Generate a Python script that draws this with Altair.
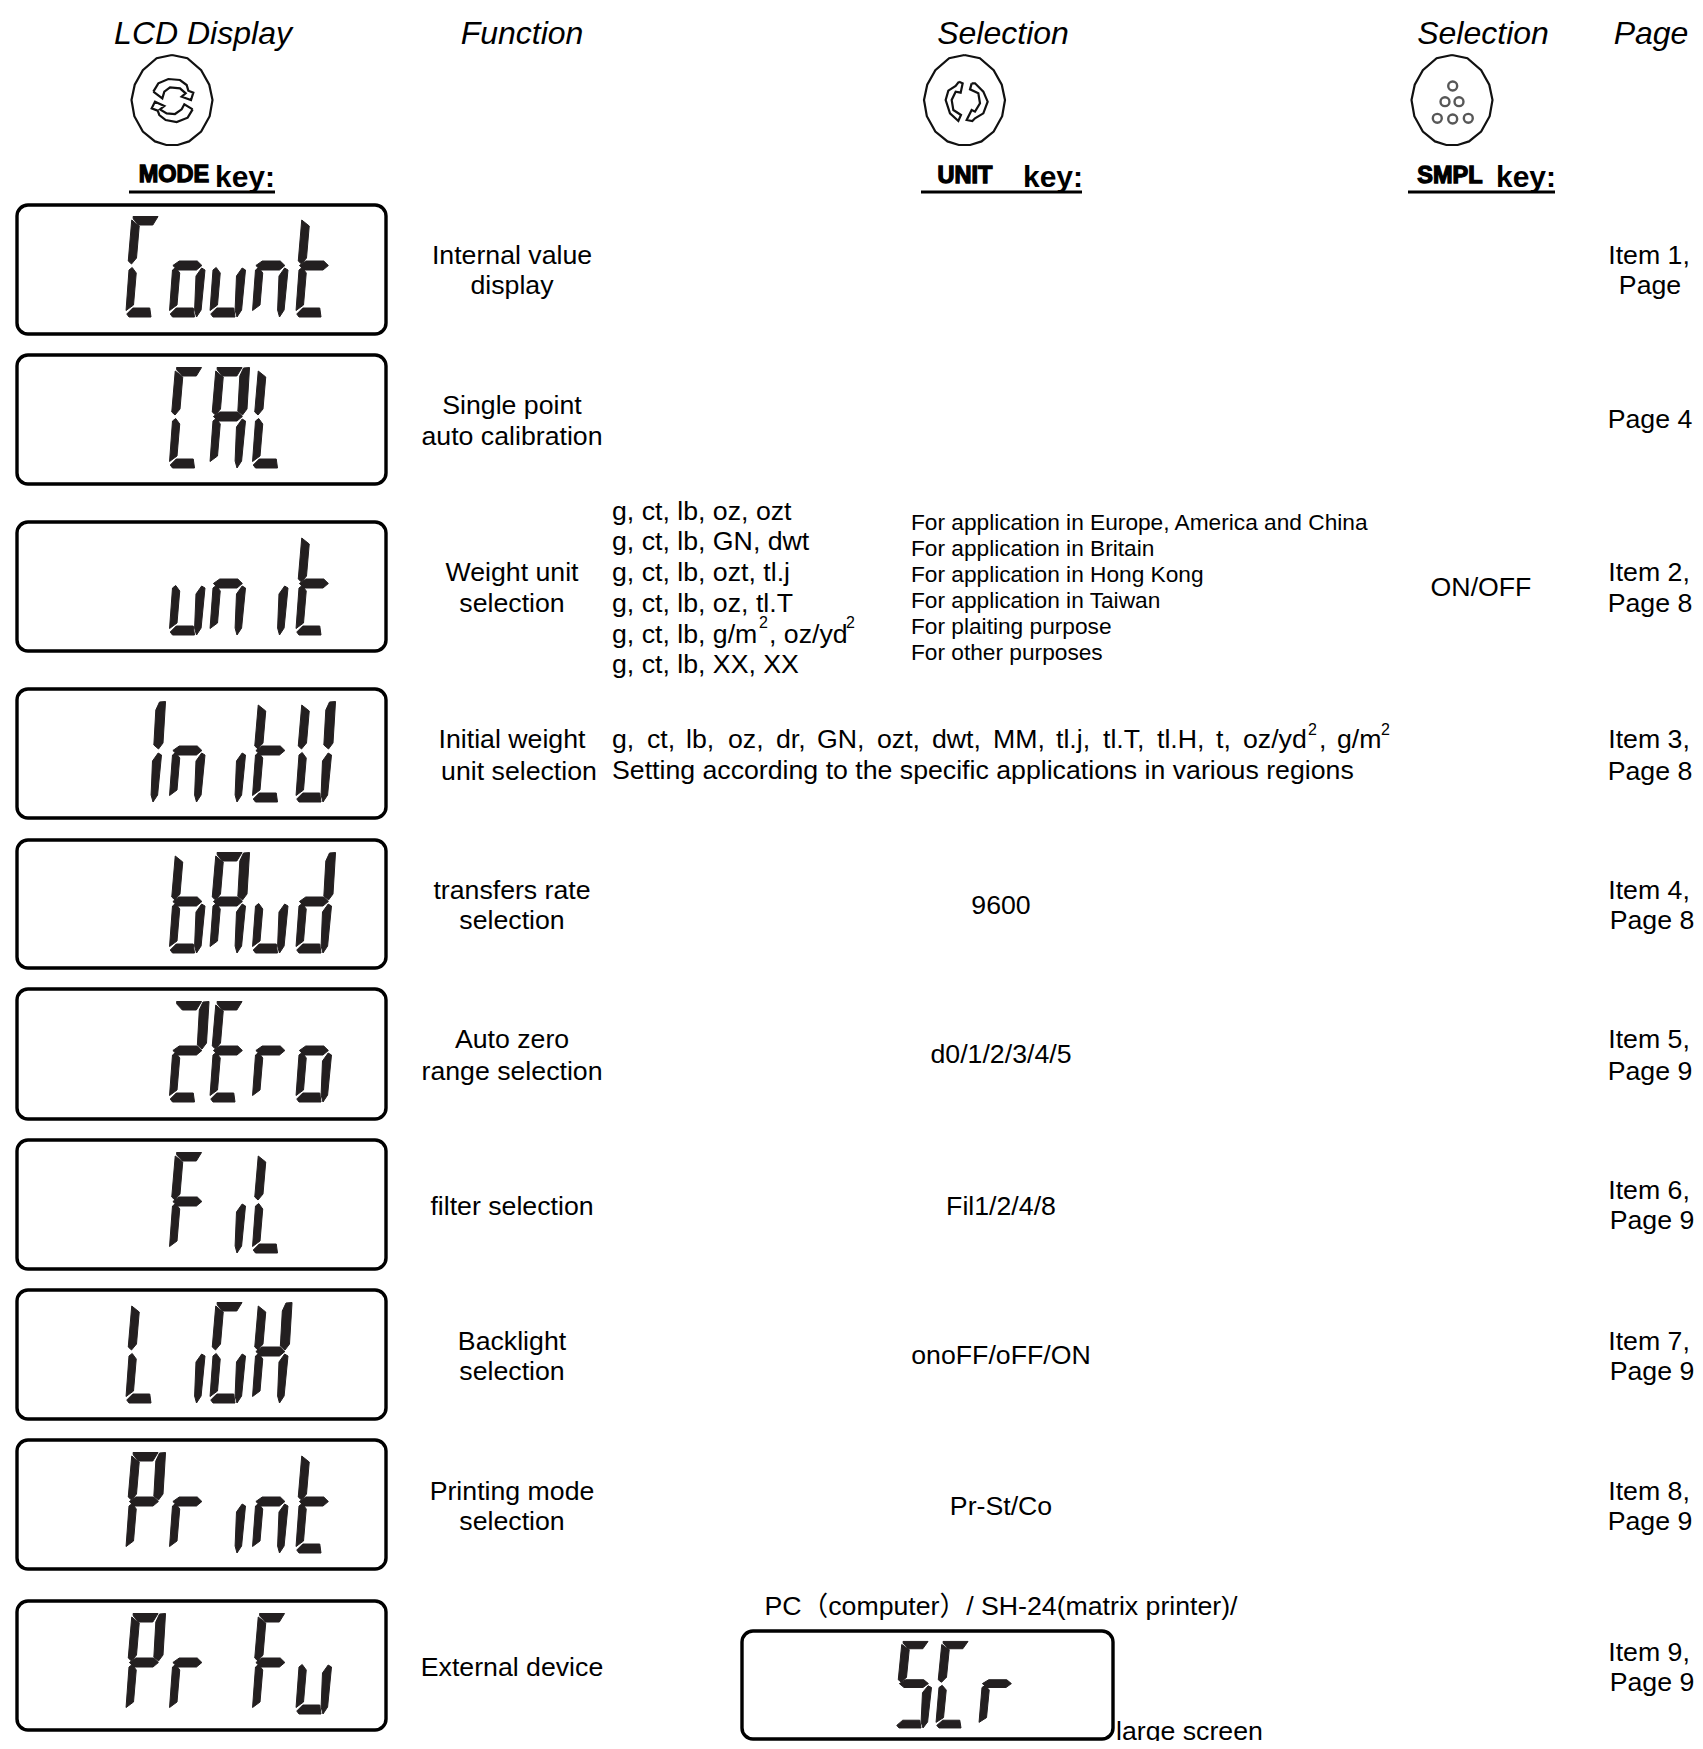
import altair as alt
import pandas as pd

FONT = "Liberation Sans, Arial, Noto Sans CJK SC"
INK = "#000000"
SEG = "#231f20"
DY = 1  # baseline correction for text

# ---------- text tables: (text, x, y) ----------
headers = [("LCD Display", 203, 33), ("Function", 522, 33), ("Selection", 1003, 33),
           ("Selection", 1483, 33), ("Page", 1651, 33)]
function_lines = [("Internal value", 512, 255), ("display", 512, 285),
    ("Single point", 512, 405), ("auto calibration", 512, 436),
    ("Weight unit", 512, 572), ("selection", 512, 603),
    ("Initial weight", 512, 739), ("unit selection", 519, 771),
    ("transfers rate", 512, 890), ("selection", 512, 920),
    ("Auto zero", 512, 1039), ("range selection", 512, 1071),
    ("filter selection", 512, 1206),
    ("Backlight", 512, 1341), ("selection", 512, 1371),
    ("Printing mode", 512, 1491), ("selection", 512, 1521),
    ("External device", 512, 1667)]
centre_lines = [("ON/OFF", 1481, 587), ("9600", 1001, 905), ("d0/1/2/3/4/5", 1001, 1054),
    ("Fil1/2/4/8", 1001, 1206), ("onoFF/oFF/ON", 1001, 1355), ("Pr-St/Co", 1001, 1506),
    ("PC\uff08computer\uff09/ SH-24(matrix printer)/", 1001, 1606)]
page_lines = [("Item 1,", 1649, 255), ("Page", 1650, 285), ("Page 4", 1650, 419),
    ("Item 2,", 1649, 572), ("Page 8", 1650, 603), ("Item 3,", 1649, 739), ("Page 8", 1650, 771),
    ("Item 4,", 1649, 890), ("Page 8", 1652, 920), ("Item 5,", 1649, 1039), ("Page 9", 1650, 1071),
    ("Item 6,", 1649, 1190), ("Page 9", 1652, 1220), ("Item 7,", 1649, 1341), ("Page 9", 1652, 1371),
    ("Item 8,", 1649, 1491), ("Page 9", 1650, 1521), ("Item 9,", 1649, 1652), ("Page 9", 1652, 1682)]
left_lines = [("g, ct, lb, oz, ozt", 612, 511), ("g, ct, lb, GN, dwt", 612, 541),
    ("g, ct, lb, ozt, tl.j", 612, 572), ("g, ct, lb, oz, tl.T", 612, 603),
    ("g, ct, lb, g/m", 612, 634), (", oz/yd", 769, 634), ("g, ct, lb, XX, XX", 612, 664),
    ("g,", 612, 739), ("ct,", 647, 739), ("lb,", 686, 739), ("oz,", 728, 739), ("dr,", 776, 739),
    ("GN,", 817, 739), ("ozt,", 877, 739), ("dwt,", 932, 739), ("MM,", 993, 739), ("tl.j,", 1056, 739),
    ("tl.T,", 1103, 739), ("tl.H,", 1157, 739), ("t,", 1216, 739), ("oz/yd", 1243, 739),
    (",", 1319, 739), ("g/m", 1337, 739),
    ("Setting according to the specific applications in various regions", 612, 770),
    ("large screen", 1116, 1731)]
sup_lines = [("2", 759, 622), ("2", 846, 622), ("2", 1308, 729), ("2", 1381, 729)]
small_lines = [("For application in Europe, America and China", 911, 522),
    ("For application in Britain", 911, 548), ("For application in Hong Kong", 911, 574),
    ("For application in Taiwan", 911, 600), ("For plaiting purpose", 911, 626),
    ("For other purposes", 911, 652)]
key_names = [("MODE", 174, 174), ("UNIT", 965, 175), ("SMPL", 1450, 175)]
key_words = [("key:", 215, 177), ("key:", 1023, 177), ("key:", 1496, 177)]

# ---------- LCD boxes ----------
lcd_boxes = [(17, 205, 386, 334), (17, 355, 386, 484), (17, 522, 386, 651), (17, 689, 386, 818),
             (17, 840, 386, 968), (17, 989, 386, 1119), (17, 1140, 386, 1269), (17, 1290, 386, 1419),
             (17, 1440, 386, 1569), (17, 1601, 386, 1730), (742, 1631, 1113, 1739)]
under_rules = [(129, 275, 192), (921, 1082, 192), (1408, 1555, 192)]

# seven-segment outlines, local units
segments = {
    "a": [(-1.5, 12.5), (23.5, 12.5), (19, 21), (5, 21), (-1, 15)],
    "b": [(25, 13), (31, 12.5), (32, 54), (28, 60), (23, 56), (22, 21)],
    "c": [(31.5, 66), (31, 106), (27, 113), (24.5, 106), (23, 72), (28, 64)],
    "d": [(6, 104), (23, 104), (25, 113), (3, 113), (0.5, 110)],
    "e": [(-0.5, 106.5), (6.5, 101), (6.5, 69), (2, 63.5), (-1, 66)],
    "f": [(-2.5, 16), (5.5, 22), (5.5, 54), (1, 60), (-2.5, 57)],
    "g": [(-1, 61.5), (5, 57), (23, 57), (28, 61.5), (23, 66), (4, 66)],
}
glyphs = {"C": "afed", "o": "gecd", "u": "edc", "n": "gec", "t": "fged", "A": "abcefg",
          "L": "fed", "i": "c", "I": "bc", "W": "fedcb", "b": "fgedc", "d": "bgedc",
          "2": "abged", "E": "afged", "r": "ge", "F": "afge", "G": "afedc", "H": "fbgec",
          "P": "abfge", "S": "afgcd"}
col_x = [126, 169.5, 210, 252.5, 296]
lcd_words = [
    (204, {0: "C", 1: "o", 2: "u", 3: "n", 4: "t"}), (355, {1: "C", 2: "A", 3: "L"}),
    (522, {1: "u", 2: "n", 3: "i", 4: "t"}), (689, {0: "I", 1: "n", 2: "i", 3: "t", 4: "W"}),
    (840, {1: "b", 2: "A", 3: "u", 4: "d"}), (989, {1: "2", 2: "E", 3: "r", 4: "o"}),
    (1140, {1: "F", 2: "i", 3: "L"}), (1290, {0: "L", 1: "i", 2: "G", 3: "H"}),
    (1440, {0: "P", 1: "r", 2: "i", 3: "n", 4: "t"}), (1601, {0: "P", 1: "r", 3: "F", 4: "u"}),
]

polys = []
def add_poly(points, group):
    pts = list(points) + [points[0]]
    for i, (x, y) in enumerate(pts):
        polys.append({"x": x, "y": y, "i": i, "id": group})

def add_glyph(ch, x0, top, vscale=1.0, ky=12):
    for s in glyphs[ch]:
        pts = [(x0 + u + (113 - v) * 0.085, top + ky + (v - 12) * vscale) for u, v in segments[s]]
        add_poly(pts, f"{top}-{x0}-{s}")

for top, word in lcd_words:
    for col, ch in word.items():
        add_glyph(ch, col_x[col], top)
add_glyph("S", 896, 1630, 0.861, 11)
add_glyph("C", 936, 1630, 0.861, 11)
add_glyph("r", 979, 1630, 0.861, 11)
seg_df = pd.DataFrame(polys)

# ---------- key icons ----------
egg = [(0, -1), (.38, -.93), (.72, -.66), (.92, -.34), (1, 0), (.93, .36), (.72, .7), (.42, .92),
       (.14, 1), (-.14, 1), (-.42, .92), (-.72, .7), (-.93, .36), (-1, 0), (-.92, -.34), (-.72, -.66), (-.38, -.93)]
key_centres = [(172, 100), (964.5, 100), (1452, 100)]
outline = []
for n, (cx, cy) in enumerate(key_centres):
    for i, (u, v) in enumerate(egg + [egg[0]]):
        outline.append({"x": cx + u * 40.5, "y": cy + v * 45, "i": i, "id": f"k{n}"})
m1 = [(85,125),(100,100),(130,87),(165,90),(185,105),(190,122),(205,128),(198,150),(170,140),(182,130),(165,115),(135,112),(118,125),(112,145)]
m2 = [(203,178),(188,203),(155,216),(122,210),(103,195),(98,182),(80,175),(90,155),(118,168),(105,178),(125,190),(150,192),(170,178),(178,163)]
u1 = [(132,95),(143,100),(137,128),(122,125),(110,150),(115,180),(138,195),(130,213),(105,190),(92,150),(100,122),(122,108)]
u2 = [(170,100),(180,100),(205,125),(218,155),(205,190),(180,205),(172,213),(155,210),(170,180),(180,185),(195,160),(190,130),(165,118)]
for k, pts, ox in [("m1", m1, 125), ("m2", m2, 125), ("u1", u1, 915), ("u2", u2, 915)]:
    for i, (x, y) in enumerate(pts + [pts[0]]):
        outline.append({"x": ox + x / 3, "y": 50 + y / 3, "i": i, "id": k})
outline_df = pd.DataFrame(outline)
dots_df = pd.DataFrame({"x": [1452.7, 1445, 1459, 1437.3, 1452.7, 1468.3], "y": [86, 101.7, 101.7, 118.3, 119, 118.3]})

# ---------- chart ----------
X = alt.X("x:Q", axis=None, scale=alt.Scale(domain=[8, 1695], nice=False, zero=False))
Y = alt.Y("y:Q", axis=None, scale=alt.Scale(domain=[1741, 8], nice=False, zero=False))

def text_layer(rows, size, align="center", **kw):
    df = pd.DataFrame(rows, columns=["t", "x", "y"])
    df["y"] = df["y"] + DY
    return alt.Chart(df).mark_text(font=FONT, fontSize=size, align=align, baseline="middle",
                                   color=INK, **kw).encode(x=X, y=Y, text="t:N")

boxes = alt.Chart(pd.DataFrame(lcd_boxes, columns=["x", "y", "x2", "y2"])).mark_rect(
    fillOpacity=0, stroke="#000000", strokeWidth=3.4, cornerRadius=11
).encode(x=X, y=Y, x2="x2:Q", y2="y2:Q")

rules = alt.Chart(pd.DataFrame(under_rules, columns=["x", "x2", "y"])).mark_rule(
    color=INK, strokeWidth=3).encode(x=X, x2="x2:Q", y=Y)

seg_layer = alt.Chart(seg_df).mark_line(fill=SEG, stroke=SEG, strokeWidth=1).encode(
    x=X, y=Y, detail="id:N", order="i:Q")
out_layer = alt.Chart(outline_df).mark_line(stroke="#111111", strokeWidth=2.2).encode(
    x=X, y=Y, detail="id:N", order="i:Q")
dots = alt.Chart(dots_df).mark_point(shape="circle", size=80, stroke="#111111", strokeWidth=2.4, filled=False).encode(x=X, y=Y)

chart = alt.layer(
    boxes, seg_layer, out_layer, dots, rules,
    text_layer(headers, 32, fontStyle="italic"),
    text_layer(function_lines, 26.7),
    text_layer(centre_lines, 26.7),
    text_layer(page_lines, 26.7),
    text_layer(left_lines, 26.7, align="left"),
    text_layer(sup_lines, 16, align="left"),
    text_layer(small_lines, 22.7, align="left"),
    text_layer(key_names, 23.5, fontWeight="bold", stroke="#000000", strokeWidth=1.3),
    text_layer(key_words, 30, align="left", fontWeight="bold"),
).properties(width=1687, height=1733, padding=0, autosize=alt.AutoSizeParams(type="none")).configure_view(stroke=None)

chart.save("out.html", embed_options={"renderer": "svg", "actions": False})
